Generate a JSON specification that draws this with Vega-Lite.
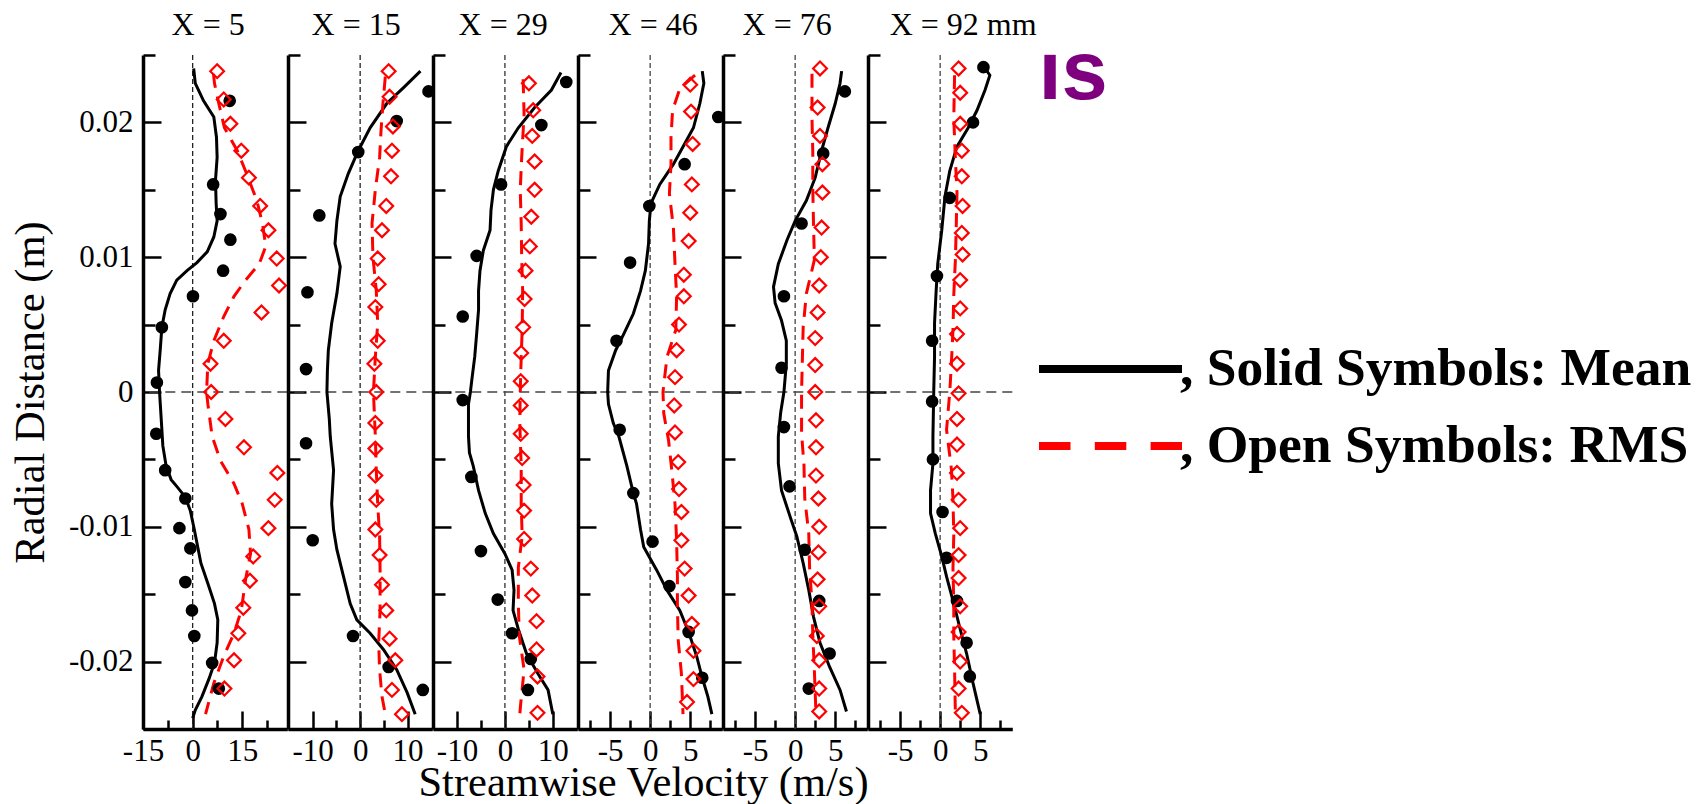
{
"$schema": "https://vega.github.io/schema/vega-lite/v6.json",
"padding": {"left": 9, "top": 8, "right": 5, "bottom": 5},
"background": "white",
"datasets": {"d": [
{"p":5,"s":"Mean","k":"LES","u":0.3,"r":0.0240},{"p":5,"s":"Mean","k":"LES","u":0.8,"r":0.0229},{"p":5,"s":"Mean","k":"LES","u":3.3,"r":0.0216},{"p":5,"s":"Mean","k":"LES","u":6.4,"r":0.0204},{"p":5,"s":"Mean","k":"LES","u":7.2,"r":0.0189},{"p":5,"s":"Mean","k":"LES","u":7.4,"r":0.0174},{"p":5,"s":"Mean","k":"LES","u":6.9,"r":0.0157},{"p":5,"s":"Mean","k":"LES","u":7.1,"r":0.0140},{"p":5,"s":"Mean","k":"LES","u":7.4,"r":0.0127},{"p":5,"s":"Mean","k":"LES","u":6.4,"r":0.0115},{"p":5,"s":"Mean","k":"LES","u":4.4,"r":0.0104},{"p":5,"s":"Mean","k":"LES","u":1.3,"r":0.0096},{"p":5,"s":"Mean","k":"LES","u":-1.7,"r":0.0090},{"p":5,"s":"Mean","k":"LES","u":-4.8,"r":0.0083},{"p":5,"s":"Mean","k":"LES","u":-6.8,"r":0.0073},{"p":5,"s":"Mean","k":"LES","u":-8.3,"r":0.0061},{"p":5,"s":"Mean","k":"LES","u":-9.3,"r":0.0048},{"p":5,"s":"Mean","k":"LES","u":-9.8,"r":0.0031},{"p":5,"s":"Mean","k":"LES","u":-10.3,"r":0.0016},{"p":5,"s":"Mean","k":"LES","u":-10.0,"r":0.0},{"p":5,"s":"Mean","k":"LES","u":-9.5,"r":-0.0020},{"p":5,"s":"Mean","k":"LES","u":-9.0,"r":-0.0040},{"p":5,"s":"Mean","k":"LES","u":-8.0,"r":-0.0055},{"p":5,"s":"Mean","k":"LES","u":-6.5,"r":-0.0065},{"p":5,"s":"Mean","k":"LES","u":-4.8,"r":-0.0070},{"p":5,"s":"Mean","k":"LES","u":-2.2,"r":-0.0078},{"p":5,"s":"Mean","k":"LES","u":-0.7,"r":-0.0088},{"p":5,"s":"Mean","k":"LES","u":0.5,"r":-0.0102},{"p":5,"s":"Mean","k":"LES","u":1.3,"r":-0.0112},{"p":5,"s":"Mean","k":"LES","u":2.5,"r":-0.0127},{"p":5,"s":"Mean","k":"LES","u":4.6,"r":-0.0142},{"p":5,"s":"Mean","k":"LES","u":6.6,"r":-0.0157},{"p":5,"s":"Mean","k":"LES","u":7.6,"r":-0.0169},{"p":5,"s":"Mean","k":"LES","u":7.4,"r":-0.0186},{"p":5,"s":"Mean","k":"LES","u":6.6,"r":-0.0201},{"p":5,"s":"Mean","k":"LES","u":4.9,"r":-0.0213},{"p":5,"s":"Mean","k":"LES","u":2.8,"r":-0.0226},{"p":5,"s":"Mean","k":"LES","u":0.8,"r":-0.0236},{"p":5,"s":"Mean","k":"LES","u":0.0,"r":-0.0242},
{"p":5,"s":"RMS","k":"LES","u":6.3,"r":0.0236},{"p":5,"s":"RMS","k":"LES","u":6.6,"r":0.0229},{"p":5,"s":"RMS","k":"LES","u":7.9,"r":0.0214},{"p":5,"s":"RMS","k":"LES","u":9.6,"r":0.0196},{"p":5,"s":"RMS","k":"LES","u":13.5,"r":0.0179},{"p":5,"s":"RMS","k":"LES","u":16.3,"r":0.0162},{"p":5,"s":"RMS","k":"LES","u":19.4,"r":0.0142},{"p":5,"s":"RMS","k":"LES","u":21.1,"r":0.0125},{"p":5,"s":"RMS","k":"LES","u":22.1,"r":0.0108},{"p":5,"s":"RMS","k":"LES","u":20.1,"r":0.0095},{"p":5,"s":"RMS","k":"LES","u":16.0,"r":0.0083},{"p":5,"s":"RMS","k":"LES","u":12.5,"r":0.0071},{"p":5,"s":"RMS","k":"LES","u":9.4,"r":0.0056},{"p":5,"s":"RMS","k":"LES","u":6.4,"r":0.0038},{"p":5,"s":"RMS","k":"LES","u":4.6,"r":0.0021},{"p":5,"s":"RMS","k":"LES","u":4.2,"r":0.0},{"p":5,"s":"RMS","k":"LES","u":4.6,"r":-0.0009},{"p":5,"s":"RMS","k":"LES","u":5.9,"r":-0.0033},{"p":5,"s":"RMS","k":"LES","u":8.4,"r":-0.0051},{"p":5,"s":"RMS","k":"LES","u":12.5,"r":-0.0068},{"p":5,"s":"RMS","k":"LES","u":15.0,"r":-0.0083},{"p":5,"s":"RMS","k":"LES","u":17.0,"r":-0.0102},{"p":5,"s":"RMS","k":"LES","u":17.5,"r":-0.0120},{"p":5,"s":"RMS","k":"LES","u":16.0,"r":-0.0139},{"p":5,"s":"RMS","k":"LES","u":14.7,"r":-0.0162},{"p":5,"s":"RMS","k":"LES","u":12.5,"r":-0.0179},{"p":5,"s":"RMS","k":"LES","u":9.4,"r":-0.0196},{"p":5,"s":"RMS","k":"LES","u":6.4,"r":-0.0216},{"p":5,"s":"RMS","k":"LES","u":3.9,"r":-0.0239},
{"p":5,"s":"Mean","k":"Exp","u":11.2,"r":0.0216},{"p":5,"s":"Mean","k":"Exp","u":6.2,"r":0.0154},{"p":5,"s":"Mean","k":"Exp","u":8.4,"r":0.0132},{"p":5,"s":"Mean","k":"Exp","u":11.4,"r":0.0113},{"p":5,"s":"Mean","k":"Exp","u":9.2,"r":0.0090},{"p":5,"s":"Mean","k":"Exp","u":0.1,"r":0.0071},{"p":5,"s":"Mean","k":"Exp","u":-9.3,"r":0.0048},{"p":5,"s":"Mean","k":"Exp","u":-10.8,"r":0.0007},{"p":5,"s":"Mean","k":"Exp","u":-11.0,"r":-0.0031},{"p":5,"s":"Mean","k":"Exp","u":-8.3,"r":-0.0058},{"p":5,"s":"Mean","k":"Exp","u":-2.2,"r":-0.0079},{"p":5,"s":"Mean","k":"Exp","u":-4.0,"r":-0.0101},{"p":5,"s":"Mean","k":"Exp","u":-0.7,"r":-0.0116},{"p":5,"s":"Mean","k":"Exp","u":-2.2,"r":-0.0141},{"p":5,"s":"Mean","k":"Exp","u":-0.2,"r":-0.0162},{"p":5,"s":"Mean","k":"Exp","u":0.5,"r":-0.0181},{"p":5,"s":"Mean","k":"Exp","u":5.9,"r":-0.0201},{"p":5,"s":"Mean","k":"Exp","u":7.9,"r":-0.0220},
{"p":5,"s":"RMS","k":"Exp","u":7.4,"r":0.0238},{"p":5,"s":"RMS","k":"Exp","u":9.4,"r":0.0217},{"p":5,"s":"RMS","k":"Exp","u":11.4,"r":0.0199},{"p":5,"s":"RMS","k":"Exp","u":14.7,"r":0.0179},{"p":5,"s":"RMS","k":"Exp","u":17.0,"r":0.0159},{"p":5,"s":"RMS","k":"Exp","u":20.4,"r":0.0138},{"p":5,"s":"RMS","k":"Exp","u":22.9,"r":0.0120},{"p":5,"s":"RMS","k":"Exp","u":25.4,"r":0.0099},{"p":5,"s":"RMS","k":"Exp","u":26.1,"r":0.0079},{"p":5,"s":"RMS","k":"Exp","u":20.8,"r":0.0059},{"p":5,"s":"RMS","k":"Exp","u":9.4,"r":0.0038},{"p":5,"s":"RMS","k":"Exp","u":5.4,"r":0.0021},{"p":5,"s":"RMS","k":"Exp","u":5.6,"r":0.0},{"p":5,"s":"RMS","k":"Exp","u":9.9,"r":-0.0020},{"p":5,"s":"RMS","k":"Exp","u":15.5,"r":-0.0041},{"p":5,"s":"RMS","k":"Exp","u":25.6,"r":-0.0060},{"p":5,"s":"RMS","k":"Exp","u":24.8,"r":-0.0080},{"p":5,"s":"RMS","k":"Exp","u":22.9,"r":-0.0101},{"p":5,"s":"RMS","k":"Exp","u":18.3,"r":-0.0122},{"p":5,"s":"RMS","k":"Exp","u":17.3,"r":-0.0140},{"p":5,"s":"RMS","k":"Exp","u":15.3,"r":-0.0160},{"p":5,"s":"RMS","k":"Exp","u":13.8,"r":-0.0179},{"p":5,"s":"RMS","k":"Exp","u":12.5,"r":-0.0199},{"p":5,"s":"RMS","k":"Exp","u":9.6,"r":-0.0220},
{"p":15,"s":"Mean","k":"LES","u":12.7,"r":0.0238},{"p":15,"s":"Mean","k":"LES","u":9.2,"r":0.0226},{"p":15,"s":"Mean","k":"LES","u":5.6,"r":0.0214},{"p":15,"s":"Mean","k":"LES","u":2.1,"r":0.0196},{"p":15,"s":"Mean","k":"LES","u":-0.4,"r":0.0179},{"p":15,"s":"Mean","k":"LES","u":-2.5,"r":0.0162},{"p":15,"s":"Mean","k":"LES","u":-4.2,"r":0.0145},{"p":15,"s":"Mean","k":"LES","u":-4.9,"r":0.0127},{"p":15,"s":"Mean","k":"LES","u":-5.3,"r":0.0110},{"p":15,"s":"Mean","k":"LES","u":-4.2,"r":0.0093},{"p":15,"s":"Mean","k":"LES","u":-4.9,"r":0.0073},{"p":15,"s":"Mean","k":"LES","u":-6.0,"r":0.0051},{"p":15,"s":"Mean","k":"LES","u":-6.7,"r":0.0031},{"p":15,"s":"Mean","k":"LES","u":-6.9,"r":0.0016},{"p":15,"s":"Mean","k":"LES","u":-7.0,"r":0.0},{"p":15,"s":"Mean","k":"LES","u":-6.5,"r":-0.0020},{"p":15,"s":"Mean","k":"LES","u":-6.3,"r":-0.0033},{"p":15,"s":"Mean","k":"LES","u":-5.6,"r":-0.0058},{"p":15,"s":"Mean","k":"LES","u":-6.0,"r":-0.0083},{"p":15,"s":"Mean","k":"LES","u":-5.6,"r":-0.0102},{"p":15,"s":"Mean","k":"LES","u":-4.9,"r":-0.0117},{"p":15,"s":"Mean","k":"LES","u":-3.5,"r":-0.0137},{"p":15,"s":"Mean","k":"LES","u":-2.1,"r":-0.0157},{"p":15,"s":"Mean","k":"LES","u":-0.7,"r":-0.0169},{"p":15,"s":"Mean","k":"LES","u":2.1,"r":-0.0179},{"p":15,"s":"Mean","k":"LES","u":4.9,"r":-0.0191},{"p":15,"s":"Mean","k":"LES","u":7.7,"r":-0.0206},{"p":15,"s":"Mean","k":"LES","u":9.9,"r":-0.0223},{"p":15,"s":"Mean","k":"LES","u":11.6,"r":-0.0239},
{"p":15,"s":"RMS","k":"LES","u":5.3,"r":0.0234},{"p":15,"s":"RMS","k":"LES","u":4.8,"r":0.0214},{"p":15,"s":"RMS","k":"LES","u":4.4,"r":0.0194},{"p":15,"s":"RMS","k":"LES","u":4.1,"r":0.0174},{"p":15,"s":"RMS","k":"LES","u":3.2,"r":0.0150},{"p":15,"s":"RMS","k":"LES","u":2.5,"r":0.0125},{"p":15,"s":"RMS","k":"LES","u":2.7,"r":0.0100},{"p":15,"s":"RMS","k":"LES","u":3.4,"r":0.0075},{"p":15,"s":"RMS","k":"LES","u":3.7,"r":0.0051},{"p":15,"s":"RMS","k":"LES","u":3.2,"r":0.0026},{"p":15,"s":"RMS","k":"LES","u":2.8,"r":0.0},{"p":15,"s":"RMS","k":"LES","u":3.2,"r":-0.0033},{"p":15,"s":"RMS","k":"LES","u":3.4,"r":-0.0058},{"p":15,"s":"RMS","k":"LES","u":3.7,"r":-0.0083},{"p":15,"s":"RMS","k":"LES","u":4.1,"r":-0.0107},{"p":15,"s":"RMS","k":"LES","u":4.2,"r":-0.0132},{"p":15,"s":"RMS","k":"LES","u":4.2,"r":-0.0162},{"p":15,"s":"RMS","k":"LES","u":3.9,"r":-0.0186},{"p":15,"s":"RMS","k":"LES","u":4.1,"r":-0.0206},{"p":15,"s":"RMS","k":"LES","u":4.6,"r":-0.0226},{"p":15,"s":"RMS","k":"LES","u":5.3,"r":-0.0239},
{"p":15,"s":"Mean","k":"Exp","u":14.4,"r":0.0223},{"p":15,"s":"Mean","k":"Exp","u":7.7,"r":0.0201},{"p":15,"s":"Mean","k":"Exp","u":-0.4,"r":0.0178},{"p":15,"s":"Mean","k":"Exp","u":-8.6,"r":0.0131},{"p":15,"s":"Mean","k":"Exp","u":-11.1,"r":0.0074},{"p":15,"s":"Mean","k":"Exp","u":-11.4,"r":0.0017},{"p":15,"s":"Mean","k":"Exp","u":-11.4,"r":-0.0038},{"p":15,"s":"Mean","k":"Exp","u":-10.0,"r":-0.0110},{"p":15,"s":"Mean","k":"Exp","u":-1.5,"r":-0.0181},{"p":15,"s":"Mean","k":"Exp","u":6.0,"r":-0.0204},{"p":15,"s":"Mean","k":"Exp","u":13.2,"r":-0.0221},
{"p":15,"s":"RMS","k":"Exp","u":6.0,"r":0.0238},{"p":15,"s":"RMS","k":"Exp","u":6.2,"r":0.0219},{"p":15,"s":"RMS","k":"Exp","u":6.9,"r":0.0197},{"p":15,"s":"RMS","k":"Exp","u":6.7,"r":0.0179},{"p":15,"s":"RMS","k":"Exp","u":6.5,"r":0.0160},{"p":15,"s":"RMS","k":"Exp","u":5.5,"r":0.0138},{"p":15,"s":"RMS","k":"Exp","u":4.6,"r":0.0120},{"p":15,"s":"RMS","k":"Exp","u":3.7,"r":0.0099},{"p":15,"s":"RMS","k":"Exp","u":3.9,"r":0.0080},{"p":15,"s":"RMS","k":"Exp","u":3.2,"r":0.0063},{"p":15,"s":"RMS","k":"Exp","u":3.7,"r":0.0038},{"p":15,"s":"RMS","k":"Exp","u":3.0,"r":0.0021},{"p":15,"s":"RMS","k":"Exp","u":3.4,"r":0.0},{"p":15,"s":"RMS","k":"Exp","u":3.2,"r":-0.0023},{"p":15,"s":"RMS","k":"Exp","u":3.2,"r":-0.0042},{"p":15,"s":"RMS","k":"Exp","u":3.2,"r":-0.0062},{"p":15,"s":"RMS","k":"Exp","u":3.4,"r":-0.0080},{"p":15,"s":"RMS","k":"Exp","u":3.2,"r":-0.0102},{"p":15,"s":"RMS","k":"Exp","u":4.1,"r":-0.0121},{"p":15,"s":"RMS","k":"Exp","u":4.6,"r":-0.0143},{"p":15,"s":"RMS","k":"Exp","u":5.5,"r":-0.0162},{"p":15,"s":"RMS","k":"Exp","u":6.2,"r":-0.0183},{"p":15,"s":"RMS","k":"Exp","u":7.4,"r":-0.0199},{"p":15,"s":"RMS","k":"Exp","u":6.7,"r":-0.0221},{"p":15,"s":"RMS","k":"Exp","u":8.8,"r":-0.0239},
{"p":29,"s":"Mean","k":"LES","u":11.7,"r":0.0237},{"p":29,"s":"Mean","k":"LES","u":9.7,"r":0.0224},{"p":29,"s":"Mean","k":"LES","u":6.2,"r":0.0211},{"p":29,"s":"Mean","k":"LES","u":2.8,"r":0.0196},{"p":29,"s":"Mean","k":"LES","u":0.3,"r":0.0182},{"p":29,"s":"Mean","k":"LES","u":-1.4,"r":0.0164},{"p":29,"s":"Mean","k":"LES","u":-2.4,"r":0.0150},{"p":29,"s":"Mean","k":"LES","u":-2.9,"r":0.0135},{"p":29,"s":"Mean","k":"LES","u":-3.1,"r":0.0120},{"p":29,"s":"Mean","k":"LES","u":-4.5,"r":0.0105},{"p":29,"s":"Mean","k":"LES","u":-5.2,"r":0.0090},{"p":29,"s":"Mean","k":"LES","u":-5.5,"r":0.0075},{"p":29,"s":"Mean","k":"LES","u":-5.5,"r":0.0061},{"p":29,"s":"Mean","k":"LES","u":-5.9,"r":0.0043},{"p":29,"s":"Mean","k":"LES","u":-6.3,"r":0.0026},{"p":29,"s":"Mean","k":"LES","u":-6.9,"r":0.0009},{"p":29,"s":"Mean","k":"LES","u":-7.2,"r":0.0},{"p":29,"s":"Mean","k":"LES","u":-7.6,"r":-0.0009},{"p":29,"s":"Mean","k":"LES","u":-7.6,"r":-0.0033},{"p":29,"s":"Mean","k":"LES","u":-7.4,"r":-0.0045},{"p":29,"s":"Mean","k":"LES","u":-6.6,"r":-0.0055},{"p":29,"s":"Mean","k":"LES","u":-5.5,"r":-0.0073},{"p":29,"s":"Mean","k":"LES","u":-4.1,"r":-0.0090},{"p":29,"s":"Mean","k":"LES","u":-2.4,"r":-0.0105},{"p":29,"s":"Mean","k":"LES","u":0.0,"r":-0.0120},{"p":29,"s":"Mean","k":"LES","u":1.5,"r":-0.0132},{"p":29,"s":"Mean","k":"LES","u":1.9,"r":-0.0147},{"p":29,"s":"Mean","k":"LES","u":1.7,"r":-0.0162},{"p":29,"s":"Mean","k":"LES","u":2.8,"r":-0.0176},{"p":29,"s":"Mean","k":"LES","u":4.5,"r":-0.0194},{"p":29,"s":"Mean","k":"LES","u":6.9,"r":-0.0209},{"p":29,"s":"Mean","k":"LES","u":9.0,"r":-0.0221},{"p":29,"s":"Mean","k":"LES","u":10.0,"r":-0.0239},
{"p":29,"s":"RMS","k":"LES","u":3.8,"r":0.0232},{"p":29,"s":"RMS","k":"LES","u":4.0,"r":0.0206},{"p":29,"s":"RMS","k":"LES","u":3.5,"r":0.0174},{"p":29,"s":"RMS","k":"LES","u":3.2,"r":0.0150},{"p":29,"s":"RMS","k":"LES","u":3.4,"r":0.0125},{"p":29,"s":"RMS","k":"LES","u":3.5,"r":0.0100},{"p":29,"s":"RMS","k":"LES","u":3.7,"r":0.0075},{"p":29,"s":"RMS","k":"LES","u":3.6,"r":0.0046},{"p":29,"s":"RMS","k":"LES","u":3.4,"r":0.0026},{"p":29,"s":"RMS","k":"LES","u":3.2,"r":0.0},{"p":29,"s":"RMS","k":"LES","u":3.1,"r":-0.0023},{"p":29,"s":"RMS","k":"LES","u":3.4,"r":-0.0055},{"p":29,"s":"RMS","k":"LES","u":3.4,"r":-0.0083},{"p":29,"s":"RMS","k":"LES","u":3.6,"r":-0.0107},{"p":29,"s":"RMS","k":"LES","u":2.8,"r":-0.0130},{"p":29,"s":"RMS","k":"LES","u":2.8,"r":-0.0157},{"p":29,"s":"RMS","k":"LES","u":3.0,"r":-0.0181},{"p":29,"s":"RMS","k":"LES","u":4.0,"r":-0.0206},{"p":29,"s":"RMS","k":"LES","u":3.3,"r":-0.0231},{"p":29,"s":"RMS","k":"LES","u":3.1,"r":-0.0239},
{"p":29,"s":"Mean","k":"Exp","u":12.8,"r":0.0230},{"p":29,"s":"Mean","k":"Exp","u":7.6,"r":0.0198},{"p":29,"s":"Mean","k":"Exp","u":-0.8,"r":0.0154},{"p":29,"s":"Mean","k":"Exp","u":-5.9,"r":0.0101},{"p":29,"s":"Mean","k":"Exp","u":-8.8,"r":0.0056},{"p":29,"s":"Mean","k":"Exp","u":-8.8,"r":-0.0006},{"p":29,"s":"Mean","k":"Exp","u":-7.0,"r":-0.0063},{"p":29,"s":"Mean","k":"Exp","u":-5.0,"r":-0.0118},{"p":29,"s":"Mean","k":"Exp","u":-1.5,"r":-0.0154},{"p":29,"s":"Mean","k":"Exp","u":1.5,"r":-0.0179},{"p":29,"s":"Mean","k":"Exp","u":5.4,"r":-0.0198},{"p":29,"s":"Mean","k":"Exp","u":4.8,"r":-0.0221},
{"p":29,"s":"RMS","k":"Exp","u":5.0,"r":0.0229},{"p":29,"s":"RMS","k":"Exp","u":5.9,"r":0.0209},{"p":29,"s":"RMS","k":"Exp","u":5.7,"r":0.0190},{"p":29,"s":"RMS","k":"Exp","u":6.2,"r":0.0171},{"p":29,"s":"RMS","k":"Exp","u":6.2,"r":0.0150},{"p":29,"s":"RMS","k":"Exp","u":5.5,"r":0.0130},{"p":29,"s":"RMS","k":"Exp","u":5.2,"r":0.0108},{"p":29,"s":"RMS","k":"Exp","u":4.3,"r":0.0090},{"p":29,"s":"RMS","k":"Exp","u":4.1,"r":0.0069},{"p":29,"s":"RMS","k":"Exp","u":3.8,"r":0.0048},{"p":29,"s":"RMS","k":"Exp","u":3.4,"r":0.0029},{"p":29,"s":"RMS","k":"Exp","u":3.3,"r":0.0008},{"p":29,"s":"RMS","k":"Exp","u":3.3,"r":-0.0010},{"p":29,"s":"RMS","k":"Exp","u":3.3,"r":-0.0031},{"p":29,"s":"RMS","k":"Exp","u":3.6,"r":-0.0049},{"p":29,"s":"RMS","k":"Exp","u":3.9,"r":-0.0069},{"p":29,"s":"RMS","k":"Exp","u":4.0,"r":-0.0088},{"p":29,"s":"RMS","k":"Exp","u":4.0,"r":-0.0109},{"p":29,"s":"RMS","k":"Exp","u":5.4,"r":-0.0131},{"p":29,"s":"RMS","k":"Exp","u":5.7,"r":-0.0151},{"p":29,"s":"RMS","k":"Exp","u":6.6,"r":-0.0170},{"p":29,"s":"RMS","k":"Exp","u":6.6,"r":-0.0191},{"p":29,"s":"RMS","k":"Exp","u":6.8,"r":-0.0211},{"p":29,"s":"RMS","k":"Exp","u":6.8,"r":-0.0238},
{"p":46,"s":"Mean","k":"LES","u":6.5,"r":0.0238},{"p":46,"s":"Mean","k":"LES","u":6.7,"r":0.0229},{"p":46,"s":"Mean","k":"LES","u":6.2,"r":0.0214},{"p":46,"s":"Mean","k":"LES","u":5.4,"r":0.0196},{"p":46,"s":"Mean","k":"LES","u":4.1,"r":0.0182},{"p":46,"s":"Mean","k":"LES","u":2.9,"r":0.0169},{"p":46,"s":"Mean","k":"LES","u":1.2,"r":0.0154},{"p":46,"s":"Mean","k":"LES","u":0.1,"r":0.0140},{"p":46,"s":"Mean","k":"LES","u":-0.1,"r":0.0127},{"p":46,"s":"Mean","k":"LES","u":-0.2,"r":0.0110},{"p":46,"s":"Mean","k":"LES","u":-0.6,"r":0.0090},{"p":46,"s":"Mean","k":"LES","u":-1.2,"r":0.0075},{"p":46,"s":"Mean","k":"LES","u":-2.1,"r":0.0058},{"p":46,"s":"Mean","k":"LES","u":-3.3,"r":0.0043},{"p":46,"s":"Mean","k":"LES","u":-4.3,"r":0.0031},{"p":46,"s":"Mean","k":"LES","u":-5.2,"r":0.0016},{"p":46,"s":"Mean","k":"LES","u":-5.3,"r":0.0},{"p":46,"s":"Mean","k":"LES","u":-5.2,"r":-0.0009},{"p":46,"s":"Mean","k":"LES","u":-4.6,"r":-0.0023},{"p":46,"s":"Mean","k":"LES","u":-3.9,"r":-0.0033},{"p":46,"s":"Mean","k":"LES","u":-2.9,"r":-0.0055},{"p":46,"s":"Mean","k":"LES","u":-2.1,"r":-0.0075},{"p":46,"s":"Mean","k":"LES","u":-1.7,"r":-0.0083},{"p":46,"s":"Mean","k":"LES","u":-1.2,"r":-0.0102},{"p":46,"s":"Mean","k":"LES","u":-0.8,"r":-0.0115},{"p":46,"s":"Mean","k":"LES","u":0.8,"r":-0.0132},{"p":46,"s":"Mean","k":"LES","u":2.1,"r":-0.0147},{"p":46,"s":"Mean","k":"LES","u":3.7,"r":-0.0162},{"p":46,"s":"Mean","k":"LES","u":4.8,"r":-0.0178},{"p":46,"s":"Mean","k":"LES","u":5.8,"r":-0.0196},{"p":46,"s":"Mean","k":"LES","u":6.5,"r":-0.0212},{"p":46,"s":"Mean","k":"LES","u":7.2,"r":-0.0226},{"p":46,"s":"Mean","k":"LES","u":7.7,"r":-0.0239},
{"p":46,"s":"RMS","k":"LES","u":5.6,"r":0.0235},{"p":46,"s":"RMS","k":"LES","u":3.7,"r":0.0225},{"p":46,"s":"RMS","k":"LES","u":2.8,"r":0.0209},{"p":46,"s":"RMS","k":"LES","u":2.6,"r":0.0189},{"p":46,"s":"RMS","k":"LES","u":2.6,"r":0.0169},{"p":46,"s":"RMS","k":"LES","u":2.4,"r":0.0147},{"p":46,"s":"RMS","k":"LES","u":2.9,"r":0.0122},{"p":46,"s":"RMS","k":"LES","u":3.1,"r":0.0095},{"p":46,"s":"RMS","k":"LES","u":3.3,"r":0.0071},{"p":46,"s":"RMS","k":"LES","u":3.2,"r":0.0046},{"p":46,"s":"RMS","k":"LES","u":2.1,"r":0.0026},{"p":46,"s":"RMS","k":"LES","u":1.6,"r":0.0},{"p":46,"s":"RMS","k":"LES","u":1.7,"r":-0.0016},{"p":46,"s":"RMS","k":"LES","u":2.3,"r":-0.0036},{"p":46,"s":"RMS","k":"LES","u":2.7,"r":-0.0058},{"p":46,"s":"RMS","k":"LES","u":3.1,"r":-0.0083},{"p":46,"s":"RMS","k":"LES","u":3.3,"r":-0.0110},{"p":46,"s":"RMS","k":"LES","u":3.4,"r":-0.0137},{"p":46,"s":"RMS","k":"LES","u":3.4,"r":-0.0159},{"p":46,"s":"RMS","k":"LES","u":3.5,"r":-0.0184},{"p":46,"s":"RMS","k":"LES","u":3.9,"r":-0.0209},{"p":46,"s":"RMS","k":"LES","u":4.1,"r":-0.0239},
{"p":46,"s":"Mean","k":"Exp","u":8.5,"r":0.0204},{"p":46,"s":"Mean","k":"Exp","u":4.3,"r":0.0169},{"p":46,"s":"Mean","k":"Exp","u":-0.1,"r":0.0138},{"p":46,"s":"Mean","k":"Exp","u":-2.5,"r":0.0096},{"p":46,"s":"Mean","k":"Exp","u":-4.2,"r":0.0038},{"p":46,"s":"Mean","k":"Exp","u":-3.8,"r":-0.0028},{"p":46,"s":"Mean","k":"Exp","u":-2.1,"r":-0.0075},{"p":46,"s":"Mean","k":"Exp","u":0.3,"r":-0.0111},{"p":46,"s":"Mean","k":"Exp","u":2.4,"r":-0.0144},{"p":46,"s":"Mean","k":"Exp","u":4.8,"r":-0.0178},{"p":46,"s":"Mean","k":"Exp","u":6.5,"r":-0.0212},
{"p":46,"s":"RMS","k":"Exp","u":5.0,"r":0.0228},{"p":46,"s":"RMS","k":"Exp","u":5.1,"r":0.0208},{"p":46,"s":"RMS","k":"Exp","u":5.3,"r":0.0184},{"p":46,"s":"RMS","k":"Exp","u":5.2,"r":0.0154},{"p":46,"s":"RMS","k":"Exp","u":5.0,"r":0.0133},{"p":46,"s":"RMS","k":"Exp","u":4.8,"r":0.0112},{"p":46,"s":"RMS","k":"Exp","u":4.2,"r":0.0087},{"p":46,"s":"RMS","k":"Exp","u":4.2,"r":0.0071},{"p":46,"s":"RMS","k":"Exp","u":3.6,"r":0.0050},{"p":46,"s":"RMS","k":"Exp","u":3.3,"r":0.0031},{"p":46,"s":"RMS","k":"Exp","u":3.1,"r":0.0011},{"p":46,"s":"RMS","k":"Exp","u":3.0,"r":-0.0010},{"p":46,"s":"RMS","k":"Exp","u":3.1,"r":-0.0030},{"p":46,"s":"RMS","k":"Exp","u":3.5,"r":-0.0052},{"p":46,"s":"RMS","k":"Exp","u":3.6,"r":-0.0072},{"p":46,"s":"RMS","k":"Exp","u":3.9,"r":-0.0089},{"p":46,"s":"RMS","k":"Exp","u":3.9,"r":-0.0110},{"p":46,"s":"RMS","k":"Exp","u":4.3,"r":-0.0131},{"p":46,"s":"RMS","k":"Exp","u":4.8,"r":-0.0151},{"p":46,"s":"RMS","k":"Exp","u":5.2,"r":-0.0172},{"p":46,"s":"RMS","k":"Exp","u":5.4,"r":-0.0192},{"p":46,"s":"RMS","k":"Exp","u":5.4,"r":-0.0213},{"p":46,"s":"RMS","k":"Exp","u":4.6,"r":-0.0230},
{"p":76,"s":"Mean","k":"LES","u":5.8,"r":0.0238},{"p":76,"s":"Mean","k":"LES","u":5.6,"r":0.0229},{"p":76,"s":"Mean","k":"LES","u":5.0,"r":0.0214},{"p":76,"s":"Mean","k":"LES","u":4.1,"r":0.0196},{"p":76,"s":"Mean","k":"LES","u":3.3,"r":0.0179},{"p":76,"s":"Mean","k":"LES","u":2.5,"r":0.0159},{"p":76,"s":"Mean","k":"LES","u":1.4,"r":0.0142},{"p":76,"s":"Mean","k":"LES","u":0.0,"r":0.0127},{"p":76,"s":"Mean","k":"LES","u":-1.0,"r":0.0113},{"p":76,"s":"Mean","k":"LES","u":-2.1,"r":0.0095},{"p":76,"s":"Mean","k":"LES","u":-2.7,"r":0.0078},{"p":76,"s":"Mean","k":"LES","u":-2.5,"r":0.0066},{"p":76,"s":"Mean","k":"LES","u":-1.7,"r":0.0053},{"p":76,"s":"Mean","k":"LES","u":-1.1,"r":0.0038},{"p":76,"s":"Mean","k":"LES","u":-1.1,"r":0.0021},{"p":76,"s":"Mean","k":"LES","u":-1.4,"r":0.0},{"p":76,"s":"Mean","k":"LES","u":-1.8,"r":-0.0015},{"p":76,"s":"Mean","k":"LES","u":-2.1,"r":-0.0033},{"p":76,"s":"Mean","k":"LES","u":-2.1,"r":-0.0053},{"p":76,"s":"Mean","k":"LES","u":-1.7,"r":-0.0073},{"p":76,"s":"Mean","k":"LES","u":-0.6,"r":-0.0093},{"p":76,"s":"Mean","k":"LES","u":0.2,"r":-0.0107},{"p":76,"s":"Mean","k":"LES","u":1.0,"r":-0.0127},{"p":76,"s":"Mean","k":"LES","u":1.7,"r":-0.0147},{"p":76,"s":"Mean","k":"LES","u":2.3,"r":-0.0167},{"p":76,"s":"Mean","k":"LES","u":3.1,"r":-0.0186},{"p":76,"s":"Mean","k":"LES","u":4.3,"r":-0.0204},{"p":76,"s":"Mean","k":"LES","u":5.6,"r":-0.0221},{"p":76,"s":"Mean","k":"LES","u":6.4,"r":-0.0237},
{"p":76,"s":"RMS","k":"LES","u":2.1,"r":0.0236},{"p":76,"s":"RMS","k":"LES","u":2.1,"r":0.0226},{"p":76,"s":"RMS","k":"LES","u":2.1,"r":0.0203},{"p":76,"s":"RMS","k":"LES","u":2.2,"r":0.0178},{"p":76,"s":"RMS","k":"LES","u":2.2,"r":0.0152},{"p":76,"s":"RMS","k":"LES","u":2.3,"r":0.0122},{"p":76,"s":"RMS","k":"LES","u":2.4,"r":0.0098},{"p":76,"s":"RMS","k":"LES","u":1.4,"r":0.0073},{"p":76,"s":"RMS","k":"LES","u":1.0,"r":0.0048},{"p":76,"s":"RMS","k":"LES","u":0.9,"r":0.0024},{"p":76,"s":"RMS","k":"LES","u":0.8,"r":0.0},{"p":76,"s":"RMS","k":"LES","u":0.8,"r":-0.0031},{"p":76,"s":"RMS","k":"LES","u":1.1,"r":-0.0054},{"p":76,"s":"RMS","k":"LES","u":1.2,"r":-0.0079},{"p":76,"s":"RMS","k":"LES","u":1.7,"r":-0.0105},{"p":76,"s":"RMS","k":"LES","u":1.8,"r":-0.0130},{"p":76,"s":"RMS","k":"LES","u":2.1,"r":-0.0157},{"p":76,"s":"RMS","k":"LES","u":2.2,"r":-0.0180},{"p":76,"s":"RMS","k":"LES","u":2.4,"r":-0.0207},{"p":76,"s":"RMS","k":"LES","u":2.6,"r":-0.0239},
{"p":76,"s":"Mean","k":"Exp","u":6.2,"r":0.0223},{"p":76,"s":"Mean","k":"Exp","u":3.5,"r":0.0177},{"p":76,"s":"Mean","k":"Exp","u":0.8,"r":0.0125},{"p":76,"s":"Mean","k":"Exp","u":-1.4,"r":0.0071},{"p":76,"s":"Mean","k":"Exp","u":-1.7,"r":0.0018},{"p":76,"s":"Mean","k":"Exp","u":-1.4,"r":-0.0026},{"p":76,"s":"Mean","k":"Exp","u":-0.7,"r":-0.0070},{"p":76,"s":"Mean","k":"Exp","u":1.2,"r":-0.0117},{"p":76,"s":"Mean","k":"Exp","u":3.0,"r":-0.0155},{"p":76,"s":"Mean","k":"Exp","u":4.3,"r":-0.0194},{"p":76,"s":"Mean","k":"Exp","u":1.7,"r":-0.0220},
{"p":76,"s":"RMS","k":"Exp","u":3.1,"r":0.0240},{"p":76,"s":"RMS","k":"Exp","u":2.8,"r":0.0211},{"p":76,"s":"RMS","k":"Exp","u":3.1,"r":0.0190},{"p":76,"s":"RMS","k":"Exp","u":3.4,"r":0.0169},{"p":76,"s":"RMS","k":"Exp","u":3.4,"r":0.0148},{"p":76,"s":"RMS","k":"Exp","u":3.3,"r":0.0122},{"p":76,"s":"RMS","k":"Exp","u":3.2,"r":0.0100},{"p":76,"s":"RMS","k":"Exp","u":3.0,"r":0.0079},{"p":76,"s":"RMS","k":"Exp","u":2.8,"r":0.0059},{"p":76,"s":"RMS","k":"Exp","u":2.5,"r":0.0040},{"p":76,"s":"RMS","k":"Exp","u":2.5,"r":0.0020},{"p":76,"s":"RMS","k":"Exp","u":2.5,"r":0.0},{"p":76,"s":"RMS","k":"Exp","u":2.6,"r":-0.0021},{"p":76,"s":"RMS","k":"Exp","u":2.6,"r":-0.0041},{"p":76,"s":"RMS","k":"Exp","u":2.6,"r":-0.0062},{"p":76,"s":"RMS","k":"Exp","u":2.9,"r":-0.0079},{"p":76,"s":"RMS","k":"Exp","u":3.0,"r":-0.0100},{"p":76,"s":"RMS","k":"Exp","u":2.9,"r":-0.0119},{"p":76,"s":"RMS","k":"Exp","u":2.8,"r":-0.0139},{"p":76,"s":"RMS","k":"Exp","u":3.0,"r":-0.0159},{"p":76,"s":"RMS","k":"Exp","u":2.7,"r":-0.0181},{"p":76,"s":"RMS","k":"Exp","u":3.0,"r":-0.0199},{"p":76,"s":"RMS","k":"Exp","u":3.0,"r":-0.0220},{"p":76,"s":"RMS","k":"Exp","u":3.0,"r":-0.0237},
{"p":92,"s":"Mean","k":"LES","u":5.5,"r":0.0241},{"p":92,"s":"Mean","k":"LES","u":6.2,"r":0.0235},{"p":92,"s":"Mean","k":"LES","u":5.6,"r":0.0224},{"p":92,"s":"Mean","k":"LES","u":4.6,"r":0.0209},{"p":92,"s":"Mean","k":"LES","u":3.5,"r":0.0196},{"p":92,"s":"Mean","k":"LES","u":2.1,"r":0.0182},{"p":92,"s":"Mean","k":"LES","u":1.2,"r":0.0164},{"p":92,"s":"Mean","k":"LES","u":0.6,"r":0.0145},{"p":92,"s":"Mean","k":"LES","u":0.2,"r":0.0120},{"p":92,"s":"Mean","k":"LES","u":-0.3,"r":0.0095},{"p":92,"s":"Mean","k":"LES","u":-0.5,"r":0.0075},{"p":92,"s":"Mean","k":"LES","u":-0.7,"r":0.0051},{"p":92,"s":"Mean","k":"LES","u":-0.7,"r":0.0026},{"p":92,"s":"Mean","k":"LES","u":-0.8,"r":0.0},{"p":92,"s":"Mean","k":"LES","u":-0.9,"r":-0.0033},{"p":92,"s":"Mean","k":"LES","u":-0.9,"r":-0.0053},{"p":92,"s":"Mean","k":"LES","u":-1.2,"r":-0.0073},{"p":92,"s":"Mean","k":"LES","u":-1.2,"r":-0.0090},{"p":92,"s":"Mean","k":"LES","u":-0.6,"r":-0.0105},{"p":92,"s":"Mean","k":"LES","u":0.2,"r":-0.0122},{"p":92,"s":"Mean","k":"LES","u":0.8,"r":-0.0137},{"p":92,"s":"Mean","k":"LES","u":1.7,"r":-0.0157},{"p":92,"s":"Mean","k":"LES","u":2.5,"r":-0.0176},{"p":92,"s":"Mean","k":"LES","u":3.3,"r":-0.0194},{"p":92,"s":"Mean","k":"LES","u":4.1,"r":-0.0216},{"p":92,"s":"Mean","k":"LES","u":5.0,"r":-0.0239},
{"p":92,"s":"RMS","k":"LES","u":1.8,"r":0.0235},{"p":92,"s":"RMS","k":"LES","u":1.7,"r":0.0203},{"p":92,"s":"RMS","k":"LES","u":1.9,"r":0.0173},{"p":92,"s":"RMS","k":"LES","u":2.1,"r":0.0148},{"p":92,"s":"RMS","k":"LES","u":2.0,"r":0.0121},{"p":92,"s":"RMS","k":"LES","u":1.9,"r":0.0098},{"p":92,"s":"RMS","k":"LES","u":1.7,"r":0.0072},{"p":92,"s":"RMS","k":"LES","u":1.6,"r":0.0046},{"p":92,"s":"RMS","k":"LES","u":1.4,"r":0.0021},{"p":92,"s":"RMS","k":"LES","u":1.2,"r":0.0},{"p":92,"s":"RMS","k":"LES","u":0.8,"r":-0.0028},{"p":92,"s":"RMS","k":"LES","u":1.4,"r":-0.0057},{"p":92,"s":"RMS","k":"LES","u":1.6,"r":-0.0079},{"p":92,"s":"RMS","k":"LES","u":1.7,"r":-0.0106},{"p":92,"s":"RMS","k":"LES","u":1.6,"r":-0.0131},{"p":92,"s":"RMS","k":"LES","u":1.7,"r":-0.0157},{"p":92,"s":"RMS","k":"LES","u":1.7,"r":-0.0181},{"p":92,"s":"RMS","k":"LES","u":1.8,"r":-0.0206},{"p":92,"s":"RMS","k":"LES","u":1.9,"r":-0.0239},
{"p":92,"s":"Mean","k":"Exp","u":5.4,"r":0.0241},{"p":92,"s":"Mean","k":"Exp","u":4.1,"r":0.0200},{"p":92,"s":"Mean","k":"Exp","u":1.2,"r":0.0144},{"p":92,"s":"Mean","k":"Exp","u":-0.4,"r":0.0086},{"p":92,"s":"Mean","k":"Exp","u":-1.0,"r":0.0038},{"p":92,"s":"Mean","k":"Exp","u":-1.0,"r":-0.0007},{"p":92,"s":"Mean","k":"Exp","u":-0.9,"r":-0.0050},{"p":92,"s":"Mean","k":"Exp","u":0.3,"r":-0.0089},{"p":92,"s":"Mean","k":"Exp","u":0.8,"r":-0.0123},{"p":92,"s":"Mean","k":"Exp","u":2.1,"r":-0.0155},{"p":92,"s":"Mean","k":"Exp","u":3.3,"r":-0.0186},{"p":92,"s":"Mean","k":"Exp","u":3.7,"r":-0.0211},
{"p":92,"s":"RMS","k":"Exp","u":2.3,"r":0.0240},{"p":92,"s":"RMS","k":"Exp","u":2.5,"r":0.0222},{"p":92,"s":"RMS","k":"Exp","u":2.5,"r":0.0199},{"p":92,"s":"RMS","k":"Exp","u":2.7,"r":0.0179},{"p":92,"s":"RMS","k":"Exp","u":2.7,"r":0.0160},{"p":92,"s":"RMS","k":"Exp","u":2.8,"r":0.0138},{"p":92,"s":"RMS","k":"Exp","u":2.7,"r":0.0118},{"p":92,"s":"RMS","k":"Exp","u":2.8,"r":0.0102},{"p":92,"s":"RMS","k":"Exp","u":2.5,"r":0.0083},{"p":92,"s":"RMS","k":"Exp","u":2.5,"r":0.0062},{"p":92,"s":"RMS","k":"Exp","u":2.1,"r":0.0043},{"p":92,"s":"RMS","k":"Exp","u":2.1,"r":0.0021},{"p":92,"s":"RMS","k":"Exp","u":2.3,"r":-0.0001},{"p":92,"s":"RMS","k":"Exp","u":2.1,"r":-0.0020},{"p":92,"s":"RMS","k":"Exp","u":2.1,"r":-0.0039},{"p":92,"s":"RMS","k":"Exp","u":2.1,"r":-0.0060},{"p":92,"s":"RMS","k":"Exp","u":2.3,"r":-0.0080},{"p":92,"s":"RMS","k":"Exp","u":2.5,"r":-0.0101},{"p":92,"s":"RMS","k":"Exp","u":2.3,"r":-0.0121},{"p":92,"s":"RMS","k":"Exp","u":2.3,"r":-0.0138},{"p":92,"s":"RMS","k":"Exp","u":2.5,"r":-0.0159},{"p":92,"s":"RMS","k":"Exp","u":2.3,"r":-0.0178},{"p":92,"s":"RMS","k":"Exp","u":2.5,"r":-0.0200},{"p":92,"s":"RMS","k":"Exp","u":2.3,"r":-0.0220},{"p":92,"s":"RMS","k":"Exp","u":2.7,"r":-0.0238}
]},
"data": {"name": "d"},
"spacing": 0,
"bounds": "flush",
"resolve": {"scale": {"x": "independent", "y": "independent"}},
"hconcat": [
{"width": 144.3, "height": 674, "title": {"text": "X = 5", "dx": -7},
 "resolve": {"axis": {"x": "independent", "y": "independent"}},
 "layer": [
  {"transform": [{"filter": "false"}], "mark": {"type": "line", "strokeWidth": 8},
   "encoding": {
    "x": {"field": "u", "type": "quantitative", "scale": {"domain": [-15, 28.6], "nice": false, "zero": false}, "axis": null},
    "y": {"field": "r", "type": "quantitative", "scale": {"domain": [-0.025, 0.025], "nice": false, "zero": false}, "axis": null},
    "stroke": {"field": "s", "type": "nominal", "scale": {"domain": ["Mean", "RMS"], "range": ["#000000", "#ff0000"]},
      "legend": {"orient": "none", "legendX": 892, "legendY": 284, "title": null, "direction": "vertical", "symbolType": "stroke", "symbolSize": 20449, "symbolStrokeWidth": 8, "labelFont": "Liberation Serif", "labelFontSize": 53.5, "labelFontWeight": "bold", "labelColor": "#000000", "labelOffset": -6, "labelLimit": 2000, "clipHeight": 60, "rowPadding": 17, "padding": 0,
        "labelExpr": "datum.value == 'Mean' ? ', Solid Symbols: Mean' : ', Open Symbols: RMS'"}},
    "strokeDash": {"field": "s", "type": "nominal", "scale": {"domain": ["Mean", "RMS"], "range": [[1, 0], [31.5, 24.3]]},
      "legend": {"orient": "none", "legendX": 892, "legendY": 284, "title": null, "direction": "vertical", "symbolType": "stroke", "symbolSize": 20449, "symbolStrokeWidth": 8, "labelFont": "Liberation Serif", "labelFontSize": 53.5, "labelFontWeight": "bold", "labelColor": "#000000", "labelOffset": -6, "labelLimit": 2000, "clipHeight": 60, "rowPadding": 17, "padding": 0,
        "labelExpr": "datum.value == 'Mean' ? ', Solid Symbols: Mean' : ', Open Symbols: RMS'"}}}},
  {"data": {"values": [{}]}, "mark": {"type": "rule", "color": "#222", "strokeWidth": 1.3, "strokeDash": [5, 3]}, "encoding": {"x": {"datum": 0, "type": "quantitative", "scale": {"domain": [-15, 28.6], "nice": false, "zero": false}, "axis": null}}},
  {"data": {"values": [{}]}, "mark": {"type": "rule", "color": "#444", "strokeWidth": 1.5, "strokeDash": [10, 6]}, "encoding": {"y": {"datum": 0, "type": "quantitative", "scale": {"domain": [-0.025, 0.025], "nice": false, "zero": false}, "axis": null}}},
  {"transform": [{"filter": "datum.p == 5 && datum.k == 'LES' && datum.s == 'Mean'"}], "mark": {"type": "line", "strokeWidth": 3},
   "encoding": {
    "x": {"field": "u", "type": "quantitative", "scale": {"domain": [-15, 28.6], "nice": false, "zero": false}, "axis": {"orient": "bottom", "values": [-15, 0, 15], "tickSize": -18, "labelExpr": "toString(datum.value)", "labelPadding": 25.5, "labelOverlap": false, "labelFlush": false, "labelBound": false, "title": null}},
    "y": {"field": "r", "type": "quantitative", "scale": {"domain": [-0.025, 0.025], "nice": false, "zero": false}, "axis": {"orient": "left", "values": [-0.02, -0.01, 0, 0.01, 0.02], "tickSize": -18, "labelExpr": "toString(datum.value)", "labelPadding": 28, "labelOverlap": false, "labelFlush": false, "labelBound": false, "title": "Radial Distance (m)", "titlePadding": 16}},
    "order": {"field": "r", "sort": "descending"},
    "stroke": {"field": "s", "type": "nominal", "scale": {"domain": ["Mean", "RMS"], "range": ["#000000", "#ff0000"]}, "legend": null}}},
  {"transform": [{"filter": "datum.p == 5 && datum.k == 'LES' && datum.s == 'RMS'"}], "mark": {"type": "line", "strokeWidth": 3, "strokeDash": [14, 9]},
   "encoding": {
    "x": {"field": "u", "type": "quantitative", "scale": {"domain": [-15, 28.6], "nice": false, "zero": false}, "axis": {"orient": "bottom", "values": [-7.5, 7.5, 22.5], "tickSize": -9, "labels": false, "domain": false, "title": null}},
    "y": {"field": "r", "type": "quantitative", "scale": {"domain": [-0.025, 0.025], "nice": false, "zero": false}, "axis": {"orient": "left", "values": [-0.025, -0.015, -0.005, 0.005, 0.015, 0.025], "tickSize": -12, "labels": false, "domain": false, "title": null}},
    "order": {"field": "r", "sort": "descending"},
    "stroke": {"field": "s", "type": "nominal", "scale": {"domain": ["Mean", "RMS"], "range": ["#000000", "#ff0000"]}, "legend": null}}},
  {"transform": [{"filter": "datum.p == 5 && datum.k == 'Exp' && datum.s == 'Mean'"}], "mark": {"type": "point", "shape": "circle", "filled": true, "color": "#000000", "size": 160, "opacity": 1},
   "encoding": {"x": {"field": "u", "type": "quantitative", "scale": {"domain": [-15, 28.6], "nice": false, "zero": false}, "axis": null}, "y": {"field": "r", "type": "quantitative", "scale": {"domain": [-0.025, 0.025], "nice": false, "zero": false}, "axis": null}}},
  {"transform": [{"filter": "datum.p == 5 && datum.k == 'Exp' && datum.s == 'RMS'"}], "mark": {"type": "point", "shape": "diamond", "filled": false, "color": "#ff0000", "size": 190, "strokeWidth": 2.2, "opacity": 1},
   "encoding": {"x": {"field": "u", "type": "quantitative", "scale": {"domain": [-15, 28.6], "nice": false, "zero": false}, "axis": null}, "y": {"field": "r", "type": "quantitative", "scale": {"domain": [-0.025, 0.025], "nice": false, "zero": false}, "axis": null}}}
 ]},
{"width": 144.3, "height": 674, "title": {"text": "X = 15", "dx": -4},
 "resolve": {"axis": {"x": "independent", "y": "independent"}},
 "layer": [
  {"data": {"values": [{}]}, "mark": {"type": "rule", "color": "#222", "strokeWidth": 1.3, "strokeDash": [5, 3]}, "encoding": {"x": {"datum": 0, "type": "quantitative", "scale": {"domain": [-15.2, 15.2], "nice": false, "zero": false}, "axis": null}}},
  {"data": {"values": [{}]}, "mark": {"type": "rule", "color": "#444", "strokeWidth": 1.5, "strokeDash": [10, 6]}, "encoding": {"y": {"datum": 0, "type": "quantitative", "scale": {"domain": [-0.025, 0.025], "nice": false, "zero": false}, "axis": null}}},
  {"transform": [{"filter": "datum.p == 15 && datum.k == 'LES' && datum.s == 'Mean'"}], "mark": {"type": "line", "strokeWidth": 3},
   "encoding": {
    "x": {"field": "u", "type": "quantitative", "scale": {"domain": [-15.2, 15.2], "nice": false, "zero": false}, "axis": {"orient": "bottom", "values": [-10, 0, 10], "tickSize": -18, "labelExpr": "toString(datum.value)", "labelPadding": 25.5, "labelOverlap": false, "labelFlush": false, "labelBound": false, "title": null}},
    "y": {"field": "r", "type": "quantitative", "scale": {"domain": [-0.025, 0.025], "nice": false, "zero": false}, "axis": {"orient": "left", "values": [-0.02, -0.01, 0, 0.01, 0.02], "tickSize": -18, "labels": false, "title": null}},
    "order": {"field": "r", "sort": "descending"},
    "stroke": {"field": "s", "type": "nominal", "scale": {"domain": ["Mean", "RMS"], "range": ["#000000", "#ff0000"]}, "legend": null}}},
  {"transform": [{"filter": "datum.p == 15 && datum.k == 'LES' && datum.s == 'RMS'"}], "mark": {"type": "line", "strokeWidth": 3, "strokeDash": [14, 9]},
   "encoding": {
    "x": {"field": "u", "type": "quantitative", "scale": {"domain": [-15.2, 15.2], "nice": false, "zero": false}, "axis": {"orient": "bottom", "values": [-5, 5], "tickSize": -9, "labels": false, "domain": false, "title": null}},
    "y": {"field": "r", "type": "quantitative", "scale": {"domain": [-0.025, 0.025], "nice": false, "zero": false}, "axis": {"orient": "left", "values": [-0.025, -0.015, -0.005, 0.005, 0.015, 0.025], "tickSize": -12, "labels": false, "domain": false, "title": null}},
    "order": {"field": "r", "sort": "descending"},
    "stroke": {"field": "s", "type": "nominal", "scale": {"domain": ["Mean", "RMS"], "range": ["#000000", "#ff0000"]}, "legend": null}}},
  {"transform": [{"filter": "datum.p == 15 && datum.k == 'Exp' && datum.s == 'Mean'"}], "mark": {"type": "point", "shape": "circle", "filled": true, "color": "#000000", "size": 160, "opacity": 1},
   "encoding": {"x": {"field": "u", "type": "quantitative", "scale": {"domain": [-15.2, 15.2], "nice": false, "zero": false}, "axis": null}, "y": {"field": "r", "type": "quantitative", "scale": {"domain": [-0.025, 0.025], "nice": false, "zero": false}, "axis": null}}},
  {"transform": [{"filter": "datum.p == 15 && datum.k == 'Exp' && datum.s == 'RMS'"}], "mark": {"type": "point", "shape": "diamond", "filled": false, "color": "#ff0000", "size": 190, "strokeWidth": 2.2, "opacity": 1},
   "encoding": {"x": {"field": "u", "type": "quantitative", "scale": {"domain": [-15.2, 15.2], "nice": false, "zero": false}, "axis": null}, "y": {"field": "r", "type": "quantitative", "scale": {"domain": [-0.025, 0.025], "nice": false, "zero": false}, "axis": null}}}
 ]},
{"width": 144.3, "height": 674, "title": {"text": "X = 29", "dx": -2},
 "resolve": {"axis": {"x": "independent", "y": "independent"}},
 "layer": [
  {"data": {"values": [{}]}, "mark": {"type": "rule", "color": "#333", "strokeWidth": 1.3, "strokeDash": [5, 3]}, "encoding": {"x": {"datum": 0, "type": "quantitative", "scale": {"domain": [-15, 15.1], "nice": false, "zero": false}, "axis": null}}},
  {"data": {"values": [{}]}, "mark": {"type": "rule", "color": "#444", "strokeWidth": 1.5, "strokeDash": [10, 6]}, "encoding": {"y": {"datum": 0, "type": "quantitative", "scale": {"domain": [-0.025, 0.025], "nice": false, "zero": false}, "axis": null}}},
  {"transform": [{"filter": "datum.p == 29 && datum.k == 'LES' && datum.s == 'Mean'"}], "mark": {"type": "line", "strokeWidth": 3},
   "encoding": {
    "x": {"field": "u", "type": "quantitative", "scale": {"domain": [-15, 15.1], "nice": false, "zero": false}, "axis": {"orient": "bottom", "values": [-10, 0, 10], "tickSize": -18, "labelExpr": "toString(datum.value)", "labelPadding": 25.5, "labelOverlap": false, "labelFlush": false, "labelBound": false, "title": null}},
    "y": {"field": "r", "type": "quantitative", "scale": {"domain": [-0.025, 0.025], "nice": false, "zero": false}, "axis": {"orient": "left", "values": [-0.02, -0.01, 0, 0.01, 0.02], "tickSize": -18, "labels": false, "title": null}},
    "order": {"field": "r", "sort": "descending"},
    "stroke": {"field": "s", "type": "nominal", "scale": {"domain": ["Mean", "RMS"], "range": ["#000000", "#ff0000"]}, "legend": null}}},
  {"transform": [{"filter": "datum.p == 29 && datum.k == 'LES' && datum.s == 'RMS'"}], "mark": {"type": "line", "strokeWidth": 3, "strokeDash": [14, 9]},
   "encoding": {
    "x": {"field": "u", "type": "quantitative", "scale": {"domain": [-15, 15.1], "nice": false, "zero": false}, "axis": {"orient": "bottom", "values": [-5, 5], "tickSize": -9, "labels": false, "domain": false, "title": null}},
    "y": {"field": "r", "type": "quantitative", "scale": {"domain": [-0.025, 0.025], "nice": false, "zero": false}, "axis": {"orient": "left", "values": [-0.025, -0.015, -0.005, 0.005, 0.015, 0.025], "tickSize": -12, "labels": false, "domain": false, "title": null}},
    "order": {"field": "r", "sort": "descending"},
    "stroke": {"field": "s", "type": "nominal", "scale": {"domain": ["Mean", "RMS"], "range": ["#000000", "#ff0000"]}, "legend": null}}},
  {"transform": [{"filter": "datum.p == 29 && datum.k == 'Exp' && datum.s == 'Mean'"}], "mark": {"type": "point", "shape": "circle", "filled": true, "color": "#000000", "size": 160, "opacity": 1},
   "encoding": {"x": {"field": "u", "type": "quantitative", "scale": {"domain": [-15, 15.1], "nice": false, "zero": false}, "axis": null}, "y": {"field": "r", "type": "quantitative", "scale": {"domain": [-0.025, 0.025], "nice": false, "zero": false}, "axis": null}}},
  {"transform": [{"filter": "datum.p == 29 && datum.k == 'Exp' && datum.s == 'RMS'"}], "mark": {"type": "point", "shape": "diamond", "filled": false, "color": "#ff0000", "size": 190, "strokeWidth": 2.2, "opacity": 1},
   "encoding": {"x": {"field": "u", "type": "quantitative", "scale": {"domain": [-15, 15.1], "nice": false, "zero": false}, "axis": null}, "y": {"field": "r", "type": "quantitative", "scale": {"domain": [-0.025, 0.025], "nice": false, "zero": false}, "axis": null}}}
 ]},
{"width": 144.3, "height": 674, "title": {"text": "X = 46", "dx": 3},
 "resolve": {"axis": {"x": "independent", "y": "independent"}},
 "layer": [
  {"data": {"values": [{}]}, "mark": {"type": "rule", "color": "#444", "strokeWidth": 1.3, "strokeDash": [5, 3]}, "encoding": {"x": {"datum": 0, "type": "quantitative", "scale": {"domain": [-9, 9], "nice": false, "zero": false}, "axis": null}}},
  {"data": {"values": [{}]}, "mark": {"type": "rule", "color": "#444", "strokeWidth": 1.5, "strokeDash": [10, 6]}, "encoding": {"y": {"datum": 0, "type": "quantitative", "scale": {"domain": [-0.025, 0.025], "nice": false, "zero": false}, "axis": null}}},
  {"transform": [{"filter": "datum.p == 46 && datum.k == 'LES' && datum.s == 'Mean'"}], "mark": {"type": "line", "strokeWidth": 3},
   "encoding": {
    "x": {"field": "u", "type": "quantitative", "scale": {"domain": [-9, 9], "nice": false, "zero": false}, "axis": {"orient": "bottom", "values": [-5, 0, 5], "tickSize": -18, "labelExpr": "toString(datum.value)", "labelPadding": 25.5, "labelOverlap": false, "labelFlush": false, "labelBound": false, "title": "Streamwise Velocity (m/s)", "titlePadding": -5, "titleX": 65}},
    "y": {"field": "r", "type": "quantitative", "scale": {"domain": [-0.025, 0.025], "nice": false, "zero": false}, "axis": {"orient": "left", "values": [-0.02, -0.01, 0, 0.01, 0.02], "tickSize": -18, "labels": false, "title": null}},
    "order": {"field": "r", "sort": "descending"},
    "stroke": {"field": "s", "type": "nominal", "scale": {"domain": ["Mean", "RMS"], "range": ["#000000", "#ff0000"]}, "legend": null}}},
  {"transform": [{"filter": "datum.p == 46 && datum.k == 'LES' && datum.s == 'RMS'"}], "mark": {"type": "line", "strokeWidth": 3, "strokeDash": [14, 9]},
   "encoding": {
    "x": {"field": "u", "type": "quantitative", "scale": {"domain": [-9, 9], "nice": false, "zero": false}, "axis": {"orient": "bottom", "values": [-7.5, -2.5, 2.5, 7.5], "tickSize": -9, "labels": false, "domain": false, "title": null}},
    "y": {"field": "r", "type": "quantitative", "scale": {"domain": [-0.025, 0.025], "nice": false, "zero": false}, "axis": {"orient": "left", "values": [-0.025, -0.015, -0.005, 0.005, 0.015, 0.025], "tickSize": -12, "labels": false, "domain": false, "title": null}},
    "order": {"field": "r", "sort": "descending"},
    "stroke": {"field": "s", "type": "nominal", "scale": {"domain": ["Mean", "RMS"], "range": ["#000000", "#ff0000"]}, "legend": null}}},
  {"transform": [{"filter": "datum.p == 46 && datum.k == 'Exp' && datum.s == 'Mean'"}], "mark": {"type": "point", "shape": "circle", "filled": true, "color": "#000000", "size": 160, "opacity": 1},
   "encoding": {"x": {"field": "u", "type": "quantitative", "scale": {"domain": [-9, 9], "nice": false, "zero": false}, "axis": null}, "y": {"field": "r", "type": "quantitative", "scale": {"domain": [-0.025, 0.025], "nice": false, "zero": false}, "axis": null}}},
  {"transform": [{"filter": "datum.p == 46 && datum.k == 'Exp' && datum.s == 'RMS'"}], "mark": {"type": "point", "shape": "diamond", "filled": false, "color": "#ff0000", "size": 190, "strokeWidth": 2.2, "opacity": 1},
   "encoding": {"x": {"field": "u", "type": "quantitative", "scale": {"domain": [-9, 9], "nice": false, "zero": false}, "axis": null}, "y": {"field": "r", "type": "quantitative", "scale": {"domain": [-0.025, 0.025], "nice": false, "zero": false}, "axis": null}}}
 ]},
{"width": 144.3, "height": 674, "title": {"text": "X = 76", "dx": -8},
 "resolve": {"axis": {"x": "independent", "y": "independent"}},
 "layer": [
  {"data": {"values": [{}]}, "mark": {"type": "rule", "color": "#444", "strokeWidth": 1.3, "strokeDash": [5, 3]}, "encoding": {"x": {"datum": 0, "type": "quantitative", "scale": {"domain": [-9, 9], "nice": false, "zero": false}, "axis": null}}},
  {"data": {"values": [{}]}, "mark": {"type": "rule", "color": "#444", "strokeWidth": 1.5, "strokeDash": [10, 6]}, "encoding": {"y": {"datum": 0, "type": "quantitative", "scale": {"domain": [-0.025, 0.025], "nice": false, "zero": false}, "axis": null}}},
  {"transform": [{"filter": "datum.p == 76 && datum.k == 'LES' && datum.s == 'Mean'"}], "mark": {"type": "line", "strokeWidth": 3},
   "encoding": {
    "x": {"field": "u", "type": "quantitative", "scale": {"domain": [-9, 9], "nice": false, "zero": false}, "axis": {"orient": "bottom", "values": [-5, 0, 5], "tickSize": -18, "labelExpr": "toString(datum.value)", "labelPadding": 25.5, "labelOverlap": false, "labelFlush": false, "labelBound": false, "title": null}},
    "y": {"field": "r", "type": "quantitative", "scale": {"domain": [-0.025, 0.025], "nice": false, "zero": false}, "axis": {"orient": "left", "values": [-0.02, -0.01, 0, 0.01, 0.02], "tickSize": -18, "labels": false, "title": null}},
    "order": {"field": "r", "sort": "descending"},
    "stroke": {"field": "s", "type": "nominal", "scale": {"domain": ["Mean", "RMS"], "range": ["#000000", "#ff0000"]}, "legend": null}}},
  {"transform": [{"filter": "datum.p == 76 && datum.k == 'LES' && datum.s == 'RMS'"}], "mark": {"type": "line", "strokeWidth": 3, "strokeDash": [14, 9]},
   "encoding": {
    "x": {"field": "u", "type": "quantitative", "scale": {"domain": [-9, 9], "nice": false, "zero": false}, "axis": {"orient": "bottom", "values": [-7.5, -2.5, 2.5, 7.5], "tickSize": -9, "labels": false, "domain": false, "title": null}},
    "y": {"field": "r", "type": "quantitative", "scale": {"domain": [-0.025, 0.025], "nice": false, "zero": false}, "axis": {"orient": "left", "values": [-0.025, -0.015, -0.005, 0.005, 0.015, 0.025], "tickSize": -12, "labels": false, "domain": false, "title": null}},
    "order": {"field": "r", "sort": "descending"},
    "stroke": {"field": "s", "type": "nominal", "scale": {"domain": ["Mean", "RMS"], "range": ["#000000", "#ff0000"]}, "legend": null}}},
  {"transform": [{"filter": "datum.p == 76 && datum.k == 'Exp' && datum.s == 'Mean'"}], "mark": {"type": "point", "shape": "circle", "filled": true, "color": "#000000", "size": 160, "opacity": 1},
   "encoding": {"x": {"field": "u", "type": "quantitative", "scale": {"domain": [-9, 9], "nice": false, "zero": false}, "axis": null}, "y": {"field": "r", "type": "quantitative", "scale": {"domain": [-0.025, 0.025], "nice": false, "zero": false}, "axis": null}}},
  {"transform": [{"filter": "datum.p == 76 && datum.k == 'Exp' && datum.s == 'RMS'"}], "mark": {"type": "point", "shape": "diamond", "filled": false, "color": "#ff0000", "size": 190, "strokeWidth": 2.2, "opacity": 1},
   "encoding": {"x": {"field": "u", "type": "quantitative", "scale": {"domain": [-9, 9], "nice": false, "zero": false}, "axis": null}, "y": {"field": "r", "type": "quantitative", "scale": {"domain": [-0.025, 0.025], "nice": false, "zero": false}, "axis": null}}}
 ]},
{"width": 144.3, "height": 674, "title": {"text": "X = 92 mm", "dx": 23},
 "resolve": {"axis": {"x": "independent", "y": "independent"}},
 "layer": [
  {"data": {"values": [{}]}, "mark": {"type": "rule", "color": "#444", "strokeWidth": 1.3, "strokeDash": [5, 3]}, "encoding": {"x": {"datum": 0, "type": "quantitative", "scale": {"domain": [-9, 9], "nice": false, "zero": false}, "axis": null}}},
  {"data": {"values": [{}]}, "mark": {"type": "rule", "color": "#444", "strokeWidth": 1.5, "strokeDash": [10, 6]}, "encoding": {"y": {"datum": 0, "type": "quantitative", "scale": {"domain": [-0.025, 0.025], "nice": false, "zero": false}, "axis": null}}},
  {"transform": [{"filter": "datum.p == 92 && datum.k == 'LES' && datum.s == 'Mean'"}], "mark": {"type": "line", "strokeWidth": 3},
   "encoding": {
    "x": {"field": "u", "type": "quantitative", "scale": {"domain": [-9, 9], "nice": false, "zero": false}, "axis": {"orient": "bottom", "values": [-5, 0, 5], "tickSize": -18, "labelExpr": "toString(datum.value)", "labelPadding": 25.5, "labelOverlap": false, "labelFlush": false, "labelBound": false, "title": null}},
    "y": {"field": "r", "type": "quantitative", "scale": {"domain": [-0.025, 0.025], "nice": false, "zero": false}, "axis": {"orient": "left", "values": [-0.02, -0.01, 0, 0.01, 0.02], "tickSize": -18, "labels": false, "title": null}},
    "order": {"field": "r", "sort": "descending"},
    "stroke": {"field": "s", "type": "nominal", "scale": {"domain": ["Mean", "RMS"], "range": ["#000000", "#ff0000"]}, "legend": null}}},
  {"transform": [{"filter": "datum.p == 92 && datum.k == 'LES' && datum.s == 'RMS'"}], "mark": {"type": "line", "strokeWidth": 3, "strokeDash": [14, 9]},
   "encoding": {
    "x": {"field": "u", "type": "quantitative", "scale": {"domain": [-9, 9], "nice": false, "zero": false}, "axis": {"orient": "bottom", "values": [-7.5, -2.5, 2.5, 7.5], "tickSize": -9, "labels": false, "domain": false, "title": null}},
    "y": {"field": "r", "type": "quantitative", "scale": {"domain": [-0.025, 0.025], "nice": false, "zero": false}, "axis": {"orient": "left", "values": [-0.025, -0.015, -0.005, 0.005, 0.015, 0.025], "tickSize": -12, "labels": false, "domain": false, "title": null}},
    "order": {"field": "r", "sort": "descending"},
    "stroke": {"field": "s", "type": "nominal", "scale": {"domain": ["Mean", "RMS"], "range": ["#000000", "#ff0000"]}, "legend": null}}},
  {"transform": [{"filter": "datum.p == 92 && datum.k == 'Exp' && datum.s == 'Mean'"}], "mark": {"type": "point", "shape": "circle", "filled": true, "color": "#000000", "size": 160, "opacity": 1},
   "encoding": {"x": {"field": "u", "type": "quantitative", "scale": {"domain": [-9, 9], "nice": false, "zero": false}, "axis": null}, "y": {"field": "r", "type": "quantitative", "scale": {"domain": [-0.025, 0.025], "nice": false, "zero": false}, "axis": null}}},
  {"transform": [{"filter": "datum.p == 92 && datum.k == 'Exp' && datum.s == 'RMS'"}], "mark": {"type": "point", "shape": "diamond", "filled": false, "color": "#ff0000", "size": 190, "strokeWidth": 2.2, "opacity": 1},
   "encoding": {"x": {"field": "u", "type": "quantitative", "scale": {"domain": [-9, 9], "nice": false, "zero": false}, "axis": null}, "y": {"field": "r", "type": "quantitative", "scale": {"domain": [-0.025, 0.025], "nice": false, "zero": false}, "axis": null}}}
 ]},
{"width": 100, "height": 674, "data": {"values": [{}]},
 "mark": {"type": "text", "text": "ıs", "font": "Liberation Sans", "fontWeight": "bold", "fontSize": 83, "color": "#7f007f", "align": "left", "baseline": "alphabetic"},
 "encoding": {"x": {"datum": 25.5, "type": "quantitative", "scale": {"domain": [0, 100], "nice": false, "zero": false}, "axis": null}, "y": {"datum": 0.0217, "type": "quantitative", "scale": {"domain": [-0.025, 0.025], "nice": false, "zero": false}, "axis": null}}}
],
"config": {
 "view": {"stroke": null},
 "axis": {"grid": false, "domainColor": "#000000", "domainWidth": 3.5, "tickColor": "#000000", "tickWidth": 2.5, "labelFont": "Liberation Serif", "labelFontSize": 31, "labelColor": "#000000", "titleFont": "Liberation Serif", "titleFontSize": 42.5, "titleFontWeight": "normal", "titleColor": "#000000", "labelFlush": false, "labelOverlap": false, "labelBound": false},
 "title": {"font": "Liberation Serif", "fontSize": 32, "fontWeight": "normal", "color": "#000000", "anchor": "middle", "offset": 12}
}
}
